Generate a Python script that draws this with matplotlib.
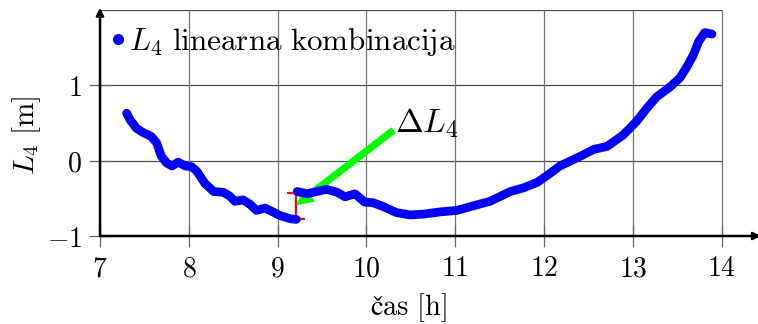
import matplotlib
matplotlib.use('Agg')
import matplotlib.pyplot as plt
from matplotlib.lines import Line2D

plt.rcParams['mathtext.fontset'] = 'cm'

# L4 before the jump
t1 = [7.30, 7.34, 7.41, 7.49, 7.58, 7.64, 7.69, 7.75, 7.81, 7.88, 7.96, 8.03, 8.09,
      8.18, 8.28, 8.39, 8.46, 8.52, 8.61, 8.69, 8.76, 8.86, 8.93, 9.03, 9.14, 9.21]
L1 = [0.63, 0.54, 0.43, 0.37, 0.32, 0.23, 0.06, -0.03, -0.07, -0.02, -0.07, -0.08, -0.14,
      -0.30, -0.41, -0.42, -0.47, -0.54, -0.52, -0.58, -0.66, -0.63, -0.67, -0.73, -0.77, -0.78]

# L4 after the jump
t2 = [9.22, 9.33, 9.44, 9.55, 9.67, 9.76, 9.87, 9.98, 10.08, 10.19, 10.34, 10.49, 10.64,
      10.83, 11.02, 11.20, 11.39, 11.62, 11.77, 11.92, 12.03, 12.18, 12.41, 12.56, 12.71,
      12.89, 13.04, 13.16, 13.27, 13.42, 13.53, 13.61, 13.68, 13.74, 13.81, 13.89]
L2 = [-0.41, -0.44, -0.41, -0.38, -0.42, -0.48, -0.44, -0.55, -0.56, -0.61, -0.69, -0.72, -0.71,
      -0.68, -0.66, -0.60, -0.54, -0.41, -0.36, -0.29, -0.20, -0.07, 0.06, 0.15, 0.19,
      0.34, 0.52, 0.70, 0.85, 0.98, 1.10, 1.25, 1.40, 1.58, 1.70, 1.68]

# jump (delta L4)
dl_t = 9.21
dl_low = -0.77
dl_high = -0.43
arrow_tip = (9.22, -0.58)
arrow_tail = (10.30, 0.40)

xticks = [7, 8, 9, 10, 11, 12, 13, 14]
yticks = [-1, 0, 1]
grid_y = [0, 1, 2]

fig = plt.figure(figsize=(7.58, 3.24), dpi=100)
ax = fig.add_axes([100 / 758, 88 / 324, 659 / 758, 226 / 324])
ax.set_xlim(7, 14.42)
ax.set_ylim(-1, 2.0)

# grid only over 7..14 / -1..2
ax.hlines(grid_y, xticks[0], xticks[-1], color='0.3', lw=0.9, zorder=0)
ax.vlines(xticks, -1, 2, color='0.45', lw=0.9, zorder=0)

# delta L4 bar and arrow
ax.errorbar([dl_t], [(dl_low + dl_high) / 2], yerr=[(dl_high - dl_low) / 2], fmt='none',
            ecolor='red', elinewidth=1.6, capsize=6.8, capthick=1.6, zorder=2)
ax.annotate('', xy=arrow_tip, xytext=arrow_tail,
            arrowprops=dict(color='#00ff00', width=4.2, headwidth=11, headlength=11, shrink=0),
            zorder=3)
ax.text(arrow_tail[0] + 0.02, arrow_tail[1] - 0.03, r'$\Delta L_4$', fontsize=24,
        ha='left', va='baseline')

# data
for t, L in [(t1, L1), (t2, L2)]:
    ax.plot(t, L, color='blue', lw=6.3, solid_capstyle='round', solid_joinstyle='round', zorder=4)

leg = ax.legend(handles=[Line2D([], [], marker='o', ls='none', color='blue', ms=7)],
                labels=[r'$L_4\ \mathrm{linearna\ kombinacija}$'],
                loc='upper left', bbox_to_anchor=(0, 0.987), frameon=False, fontsize=22.4,
                handlelength=0.3, handletextpad=0.2, borderaxespad=0, borderpad=0.42)

# axes with arrows
for s in ['top', 'right', 'left', 'bottom']:
    ax.spines[s].set_visible(False)
ax.annotate('', xy=(1.003, 0), xytext=(0, 0), xycoords='axes fraction',
            arrowprops=dict(arrowstyle='-|>', color='black', lw=1.8, mutation_scale=11,
                            shrinkA=0, shrinkB=0), zorder=5)
ax.annotate('', xy=(0, 1.01), xytext=(0, 0), xycoords='axes fraction',
            arrowprops=dict(arrowstyle='-|>', color='black', lw=1.8, mutation_scale=11,
                            shrinkA=0, shrinkB=0), zorder=5)

ax.set_xticks(xticks)
ax.set_xticklabels([r'$%d$' % v for v in xticks])
ax.set_yticks(yticks)
ax.set_yticklabels([r'$%d$' % v for v in yticks])
ax.tick_params(direction='inout', length=16, width=0.9, color='0.4', labelsize=20, pad=5)

ax.set_xlabel(r'$\mathrm{čas\ [h]}$', fontsize=20.5)
ax.xaxis.set_label_coords(0.468, -0.245)
ax.set_ylabel(r'$L_4\ \mathrm{[m]}$', fontsize=21)
ax.yaxis.set_label_coords(-0.087, 0.445)

plt.savefig('out.png', dpi=100)
